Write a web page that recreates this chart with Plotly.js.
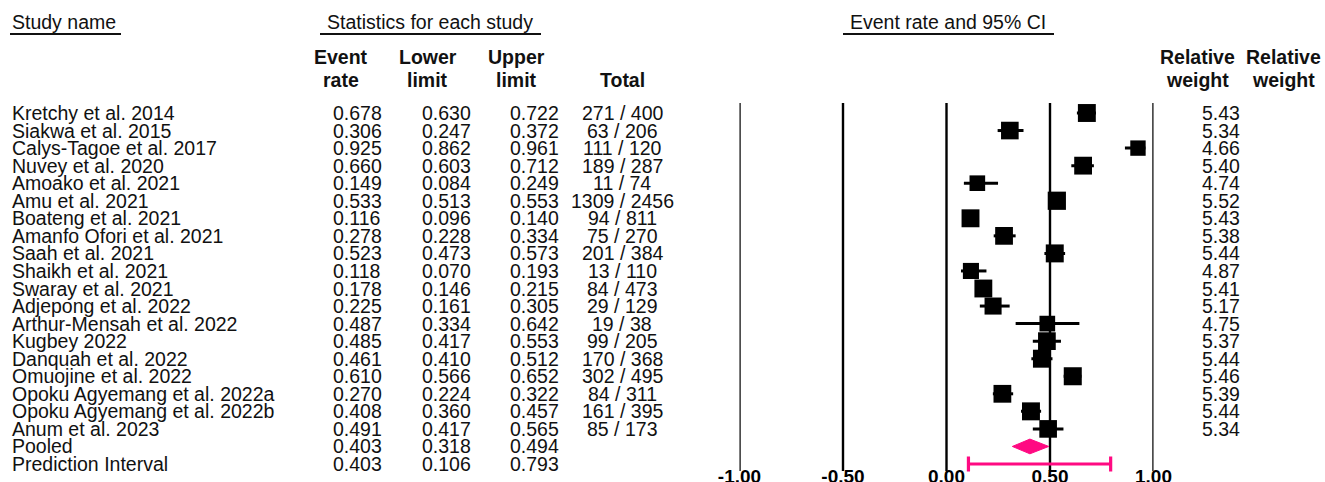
<!DOCTYPE html>
<html>
<head>
<meta charset="utf-8">
<script src="https://cdn.plot.ly/plotly-3.0.1.min.js"></script>
<style>html,body{margin:0;padding:0;background:#fff;}#chart{width:1325px;height:482px;}</style>
</head>
<body>
<div id="chart"></div>
<script>
const studies = ["Kretchy et al. 2014","Siakwa et al. 2015","Calys-Tagoe et al. 2017","Nuvey et al. 2020","Amoako et al. 2021","Amu et al. 2021","Boateng et al. 2021","Amanfo Ofori et al. 2021","Saah et al. 2021","Shaikh et al. 2021","Swaray et al. 2021","Adjepong et al. 2022","Arthur-Mensah et al. 2022","Kugbey 2022","Danquah et al. 2022","Omuojine et al. 2022","Opoku Agyemang et al. 2022a","Opoku Agyemang et al. 2022b","Anum et al. 2023"];
const rate  = [0.678,0.306,0.925,0.660,0.149,0.533,0.116,0.278,0.523,0.118,0.178,0.225,0.487,0.485,0.461,0.610,0.270,0.408,0.491];
const lower = [0.630,0.247,0.862,0.603,0.084,0.513,0.096,0.228,0.473,0.070,0.146,0.161,0.334,0.417,0.410,0.566,0.224,0.360,0.417];
const upper = [0.722,0.372,0.961,0.712,0.249,0.553,0.140,0.334,0.573,0.193,0.215,0.305,0.642,0.553,0.512,0.652,0.322,0.457,0.565];
const totals = ["271 / 400","63 / 206","111 / 120","189 / 287","11 / 74","1309 / 2456","94 / 811","75 / 270","201 / 384","13 / 110","84 / 473","29 / 129","19 / 38","99 / 205","170 / 368","302 / 495","84 / 311","161 / 395","85 / 173"];
const weights = [5.43,5.34,4.66,5.40,4.74,5.52,5.43,5.38,5.44,4.87,5.41,5.17,4.75,5.37,5.44,5.46,5.39,5.44,5.34];

const summaryNames = ["Pooled","Prediction Interval"];
const summaryRate  = [0.403,0.403];
const summaryLower = [0.318,0.106];
const summaryUpper = [0.494,0.793];

const tickVals = [-1,-0.5,0,0.5,1];
const tickText = ["-1.00","-0.50","0.00","0.50","1.00"];

const W = 1325, H = 482;
const FONT = "Liberation Sans, Arial, sans-serif";
const TXT = "#111";
const PINK = "#ff0a82";
const FS = 19.5;

const nStudy = studies.length;
const rows = studies.map((_, i) => i);
const pooledRow = nStudy, piRow = nStudy + 1;

// y pixel = Y0 + ROW*i
const Y0 = 113, ROW = 17.55;
const yBottom = (H - Y0) / ROW, yTop = -Y0 / ROW;

const px = v => v / W;

const ann = [];
function addText(text, x, y, anchor) {
  ann.push({
    text: text, x: px(x), xref: "paper",
    y: y, yref: "y",
    xanchor: anchor, yanchor: "middle", showarrow: false,
    font: {family: FONT, size: FS, color: TXT}
  });
}

// study rows
studies.forEach((s, i) => {
  addText(s, 10, i, "left");
  addText(rate[i].toFixed(3), 331, i, "left");
  addText(lower[i].toFixed(3), 420, i, "left");
  addText(upper[i].toFixed(3), 508, i, "left");
  addText(totals[i], 622, i, "center");
  addText(weights[i].toFixed(2), 1200, i, "left");
});
summaryNames.forEach((s, k) => {
  const r = nStudy + k;
  addText(s, 10, r, "left");
  addText(summaryRate[k].toFixed(3), 331, r, "left");
  addText(summaryLower[k].toFixed(3), 420, r, "left");
  addText(summaryUpper[k].toFixed(3), 508, r, "left");
});

// headers (paper y)
const py = p => (H - p) / H;
function addHead(text, x, ypx, anchor, bold) {
  ann.push({
    text: text, x: px(x), xref: "paper", y: py(ypx), yref: "paper",
    xanchor: anchor, yanchor: "middle", showarrow: false,
    font: {family: FONT, size: FS, color: TXT, weight: bold ? "bold" : "normal"}
  });
}
addHead("Study name", 10, 22, "left", false);
addHead("Statistics for each study", 430, 22, "center", false);
addHead("Event rate and 95% CI", 948, 22, "center", false);
const headCols = [["Event","rate",341],["Lower","limit",428],["Upper","limit",516],["","Total",622],["Relative","weight",1197],["Relative","weight",1283]];
headCols.forEach(h => {
  if (h[0]) addHead(h[0], h[2], 57, "center", true);
  addHead(h[1], h[2], 80, "center", true);
});

const shapes = [];
// underlines
[[10,121],[320,541],[843,1054]].forEach(u => {
  shapes.push({type:"line", xref:"paper", yref:"paper", x0:px(u[0]), x1:px(u[1]), y0:py(34), y1:py(34), line:{color:TXT, width:2}});
});
// vertical reference lines at ticks
tickVals.forEach(v => {
  shapes.push({type:"line", xref:"x", yref:"y", x0:v, x1:v, y0:(103 - Y0)/ROW, y1:(471 - Y0)/ROW, line:{color:"#000", width:2.4}, layer:"below"});
});

const traces = [
  {
    type: "scatter", mode: "markers", x: rate, y: rows,
    marker: {symbol: "square", color: "#000", opacity: 1, line: {width: 0},
             size: weights.map(w => w * 3.3)},
    error_x: {type: "data", symmetric: false,
      array: upper.map((u, i) => u - rate[i]),
      arrayminus: lower.map((l, i) => rate[i] - l),
      color: "#000", thickness: 3, width: 0},
    opacity: 1, cliponaxis: false, hoverinfo: "skip"
  },
  {
    type: "scatter", mode: "lines", fill: "toself",
    x: [summaryLower[0], summaryRate[0], summaryUpper[0], summaryRate[0], summaryLower[0]],
    y: [pooledRow, pooledRow - 0.42, pooledRow, pooledRow + 0.42, pooledRow],
    fillcolor: PINK, line: {color: PINK, width: 1}, hoverinfo: "skip", cliponaxis: false
  },
  {
    type: "scatter", mode: "markers", x: [summaryRate[1]], y: [piRow],
    marker: {size: 1, opacity: 0},
    error_x: {type: "data", symmetric: false,
      array: [summaryUpper[1] - summaryRate[1]], arrayminus: [summaryRate[1] - summaryLower[1]],
      color: PINK, thickness: 3.2, width: 7.5},
    cliponaxis: false, hoverinfo: "skip"
  }
];

const layout = {
  width: W, height: H,
  margin: {l: 0, r: 0, t: 0, b: 0, pad: 0},
  paper_bgcolor: "#fff", plot_bgcolor: "rgba(0,0,0,0)",
  showlegend: false,
  xaxis: {
    domain: [739.5 / W, 1153.5 / W], range: [-1, 1],
    anchor: "free", position: (H - 463) / H,
    tickmode: "array", tickvals: tickVals, ticktext: tickText,
    tickfont: {family: FONT, size: 19, color: "#000", weight: "bold"},
    showgrid: false, zeroline: false, showline: false, ticks: "", fixedrange: true
  },
  yaxis: {domain: [0, 1], range: [yBottom, yTop], visible: false, fixedrange: true},
  annotations: ann,
  shapes: shapes
};

Plotly.newPlot("chart", traces, layout, {staticPlot: true, displayModeBar: false});
</script>
</body>
</html>
